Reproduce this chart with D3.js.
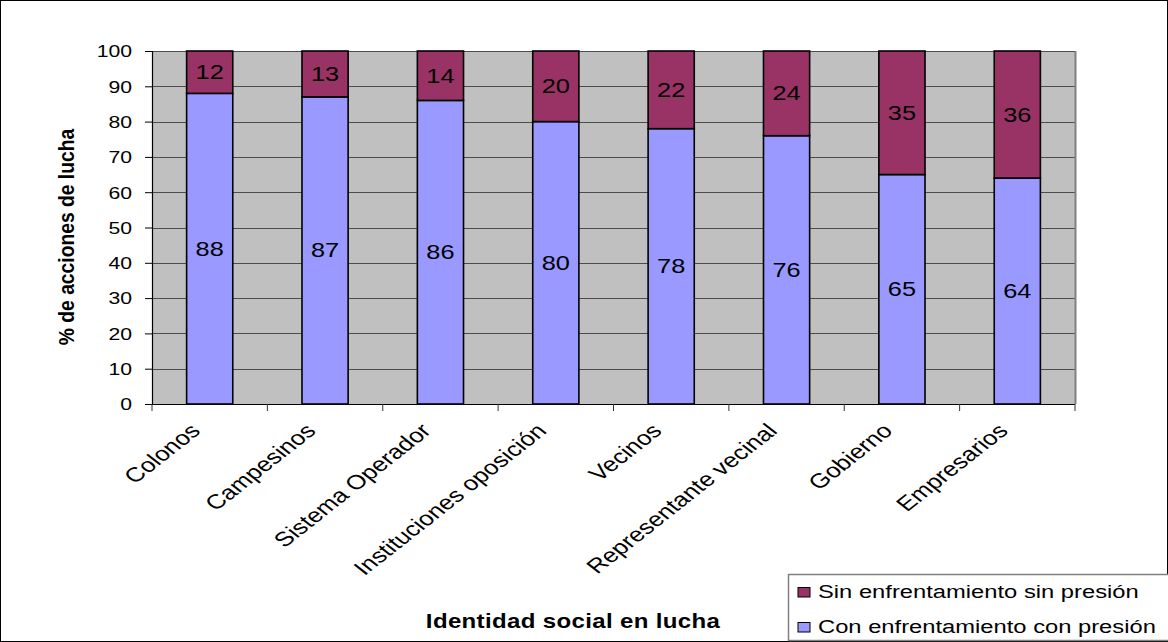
<!DOCTYPE html>
<html>
<head>
<meta charset="utf-8">
<script src="https://cdn.jsdelivr.net/npm/d3@7"></script>
<style>
  html, body { margin: 0; padding: 0; background: #fff; }
  svg { display: block; font-family: "Liberation Sans", Arial, sans-serif; }
</style>
</head>
<body>
<svg id="chart" width="1168" height="642"></svg>
<script>
// Categories and stacked series (percent of actions)
const categories = ["Colonos", "Campesinos", "Sistema Operador", "Instituciones oposición",
  "Vecinos", "Representante vecinal", "Gobierno", "Empresarios"];
const conPresion = [88, 87, 86, 80, 78, 76, 65, 64];
const sinPresion = [12, 13, 14, 20, 22, 24, 35, 36];
const yTicks = [0, 10, 20, 30, 40, 50, 60, 70, 80, 90, 100];
const seriesNames = ["Sin enfrentamiento sin presión", "Con enfrentamiento con presión"];

const svg = d3.select("#chart");
const W = 1168, H = 642;
const plot = { left: 152, right: 1075, top: 51, bottom: 404 };
const SX = 1.3; // wide text rendering

// Outer chart frame
svg.append("rect").attr("x", 0.5).attr("y", 0.5).attr("width", W - 1).attr("height", H - 1)
  .attr("fill", "#fff").attr("stroke", "#000").attr("stroke-width", 1);

const x = d3.scaleBand().domain(categories).range([plot.left, plot.right]).paddingInner(0).paddingOuter(0);
const y = d3.scaleLinear().domain([0, 100]).range([plot.bottom, plot.top]);

// Plot background
svg.append("rect").attr("x", plot.left).attr("y", plot.top)
  .attr("width", plot.right - plot.left).attr("height", plot.bottom - plot.top)
  .attr("fill", "#c0c0c0");

// Horizontal gridlines
svg.append("g").selectAll("line").data(yTicks.filter(d => d > 0)).join("line")
  .attr("x1", plot.left).attr("x2", plot.right)
  .attr("y1", d => Math.round(y(d)) + 0.5).attr("y2", d => Math.round(y(d)) + 0.5)
  .attr("stroke", "#4d4d4d").attr("stroke-width", 1);

// Right edge of plot area
svg.append("line").attr("x1", plot.right + 0.5).attr("x2", plot.right + 0.5)
  .attr("y1", plot.top).attr("y2", plot.bottom).attr("stroke", "#808080").attr("stroke-width", 2);

// Stacked bars
const rows = categories.map((c, i) => ({ cat: c, con: conPresion[i], sin: sinPresion[i] }));
const stack = d3.stack().keys(["con", "sin"])(rows);
const colors = { con: "#9999ff", sin: "#993366" };
const barW = x.bandwidth() * 0.4;

stack.forEach(layer => {
  const g = svg.append("g");
  g.selectAll("rect").data(layer).join("rect")
    .attr("x", d => x(d.data.cat) + (x.bandwidth() - barW) / 2)
    .attr("y", d => y(d[1]))
    .attr("width", barW)
    .attr("height", d => y(d[0]) - y(d[1]))
    .attr("fill", colors[layer.key])
    .attr("stroke", "#000").attr("stroke-width", 1.6);
  g.selectAll("text").data(layer).join("text")
    .attr("transform", d => `translate(${x(d.data.cat) + x.bandwidth() / 2},${y((d[0] + d[1]) / 2)}) scale(${SX},1)`)
    .attr("dy", "0.36em")
    .attr("text-anchor", "middle")
    .attr("font-size", 19.5)
    .attr("fill", "#000")
    .text(d => d.data[layer.key]);
});

// Y axis
const yAxis = svg.append("g").attr("transform", `translate(${plot.left},0)`)
  .call(d3.axisLeft(y).tickValues(yTicks).tickSize(7));
yAxis.select(".domain").attr("stroke", "#000").attr("stroke-width", 1.2);
yAxis.selectAll(".tick line").attr("stroke", "#000");
yAxis.selectAll(".tick text")
  .attr("x", null)
  .attr("transform", `translate(-20,0) scale(${SX},1)`)
  .attr("dy", "0.36em")
  .attr("font-size", 16.3).attr("fill", "#000")
  .attr("font-family", "Liberation Sans, Arial, sans-serif");

// X axis line with ticks at category boundaries
svg.append("line").attr("x1", plot.left).attr("x2", plot.right)
  .attr("y1", plot.bottom + 0.5).attr("y2", plot.bottom + 0.5).attr("stroke", "#000").attr("stroke-width", 1.2);
const bounds = categories.map(c => x(c)).concat([plot.right]);
svg.append("g").selectAll("line").data(bounds).join("line")
  .attr("x1", d => d).attr("x2", d => d)
  .attr("y1", plot.bottom).attr("y2", plot.bottom + 7)
  .attr("stroke", "#333");

// Slanted category labels
svg.append("g").selectAll("text").data(categories).join("text")
  .attr("transform", c => `translate(${x(c) + x.bandwidth() / 2 - 8},${plot.bottom + 28}) scale(1.27,1) rotate(-45)`)
  .attr("text-anchor", "end")
  .attr("font-size", 20.3)
  .attr("fill", "#000")
  .text(c => c);

// Axis titles
svg.append("text")
  .attr("transform", `translate(74,237) scale(1.1,1) rotate(-90)`)
  .attr("text-anchor", "middle").attr("font-size", 19.3).attr("font-weight", "bold")
  .text("% de acciones de lucha");
svg.append("text")
  .attr("transform", `translate(573,628) scale(1.2,1)`)
  .attr("text-anchor", "middle").attr("font-size", 20).attr("font-weight", "bold")
  .attr("letter-spacing", 0.3)
  .text("Identidad social en lucha");

// Legend
const legend = svg.append("g");
legend.append("rect").attr("x", 788.5).attr("y", 574.5).attr("width", 390).attr("height", 66)
  .attr("fill", "#fff").attr("stroke", "#808080").attr("stroke-width", 1.5);
const legendColors = [colors.sin, colors.con];
seriesNames.forEach((name, i) => {
  const cy = 592 + i * 35;
  legend.append("rect").attr("x", 798).attr("y", cy - 4.5).attr("width", 12).attr("height", 9.5)
    .attr("fill", legendColors[i]).attr("stroke", "#000").attr("stroke-width", 1);
  legend.append("text").attr("transform", `translate(818,${cy}) scale(1.32,1)`).attr("dy", "0.36em")
    .attr("font-size", 18).attr("fill", "#000").text(name);
});
</script>
</body>
</html>
